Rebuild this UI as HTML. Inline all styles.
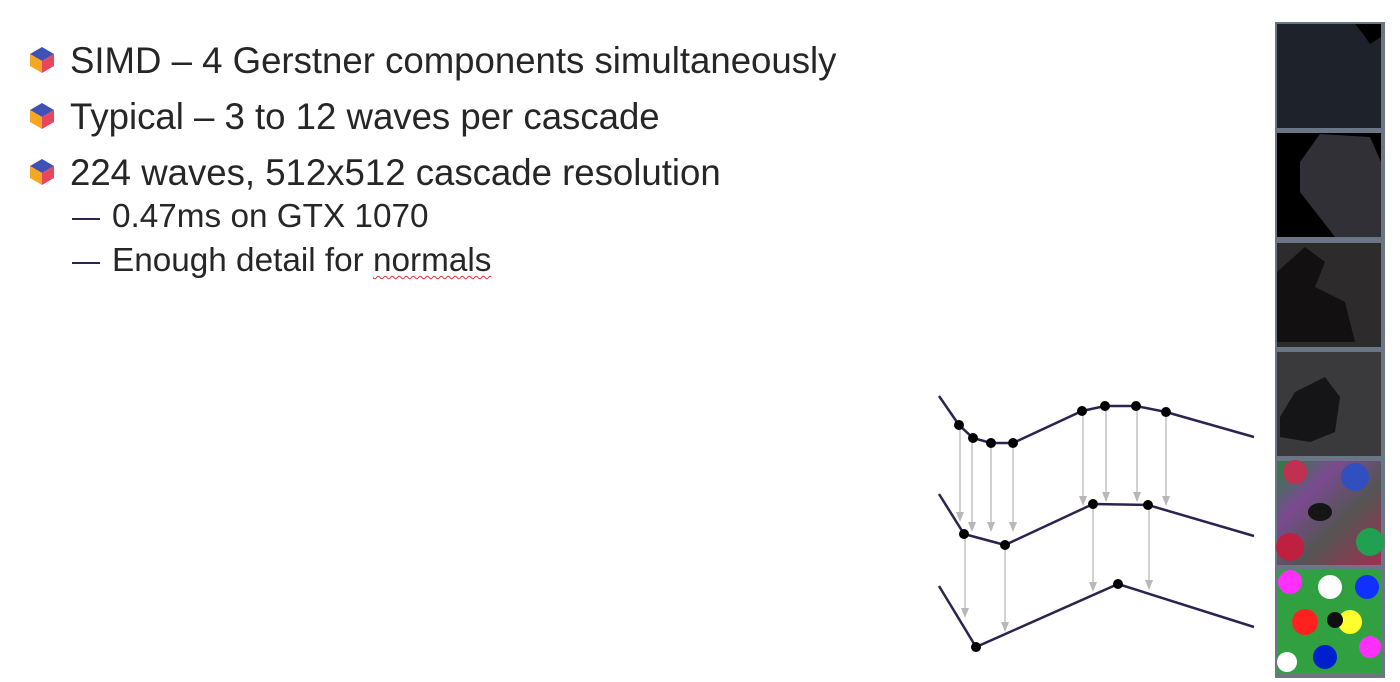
<!DOCTYPE html>
<html><head><meta charset="utf-8"><style>
body{margin:0;width:1400px;height:682px;background:#fff;overflow:hidden;position:relative;font-family:"Liberation Sans",Arial,sans-serif;color:#262626}
.b{position:absolute;left:70px;font-size:36.6px;line-height:40px;white-space:nowrap}
.s{position:absolute;left:112px;font-size:33.3px;line-height:36px;white-space:nowrap}
.d{position:absolute;left:72px;width:28px;height:2px;background:#2e2350}
.ic{position:absolute;left:28px;width:28px;height:28px}
</style></head><body>
<svg class="ic" style="top:46px" viewBox="0 0 28 28"><polygon points="14,1 26,8 14,15 2,8" fill="#3f51b5"/><polygon points="2,8 14,15 14,27 2,20" fill="#f5a623"/><polygon points="26,8 14,15 14,27 26,20" fill="#e8455e"/></svg>
<div class="b" style="top:41px">SIMD – 4 Gerstner components simultaneously</div>
<svg class="ic" style="top:102px" viewBox="0 0 28 28"><polygon points="14,1 26,8 14,15 2,8" fill="#3f51b5"/><polygon points="2,8 14,15 14,27 2,20" fill="#f5a623"/><polygon points="26,8 14,15 14,27 26,20" fill="#e8455e"/></svg>
<div class="b" style="top:97px">Typical – 3 to 12 waves per cascade</div>
<svg class="ic" style="top:158px" viewBox="0 0 28 28"><polygon points="14,1 26,8 14,15 2,8" fill="#3f51b5"/><polygon points="2,8 14,15 14,27 2,20" fill="#f5a623"/><polygon points="26,8 14,15 14,27 26,20" fill="#e8455e"/></svg>
<div class="b" style="top:153px">224 waves, 512x512 cascade resolution</div>
<div class="d" style="top:218px"></div>
<div class="s" style="top:199px">0.47ms on GTX 1070</div>
<div class="d" style="top:262px"></div>
<div class="s" style="top:243px">Enough detail for <span style="text-decoration:underline wavy #e03030;text-decoration-thickness:1px;text-underline-offset:4px">normals</span></div>

<svg style="position:absolute;left:0;top:0" width="1400" height="682">
<g stroke="#b8b8b8" stroke-width="1.3" fill="none">
<line x1="960" y1="425" x2="960" y2="520"/><line x1="972" y1="438" x2="972" y2="530"/><line x1="991" y1="443" x2="991" y2="530"/><line x1="1013" y1="443" x2="1013" y2="530"/>
<line x1="1083" y1="411" x2="1083" y2="504"/><line x1="1106" y1="406" x2="1106" y2="501"/><line x1="1137" y1="406" x2="1137" y2="501"/><line x1="1166" y1="412" x2="1166" y2="505"/>
<line x1="965" y1="534" x2="965" y2="615"/><line x1="1005" y1="545" x2="1005" y2="630"/><line x1="1093" y1="504" x2="1093" y2="590"/><line x1="1149" y1="505" x2="1149" y2="588"/>
</g>
<g fill="#b8b8b8">
<polygon points="956,512 964,512 960,522"/><polygon points="968,522 976,522 972,532"/><polygon points="987,522 995,522 991,532"/><polygon points="1009,522 1017,522 1013,532"/>
<polygon points="1079,496 1087,496 1083,506"/><polygon points="1102,492 1110,492 1106,502"/><polygon points="1133,492 1141,492 1137,502"/><polygon points="1162,496 1170,496 1166,506"/>
<polygon points="961,608 969,608 965,618"/><polygon points="1001,622 1009,622 1005,632"/><polygon points="1089,582 1097,582 1093,592"/><polygon points="1145,580 1153,580 1149,590"/>
</g>
<g stroke="#2e2350" stroke-width="2.5" fill="none">
<polyline points="939,396 959,425 973,438 991,443 1013,443 1082,411 1105,406 1136,406 1166,412 1254,437"/>
<polyline points="939,494 964,534 1005,545 1093,504 1148,505 1254,536"/>
<polyline points="939,586 976,647 1118,584 1254,627"/>
</g>
<g fill="#000">
<circle cx="959" cy="425" r="5"/><circle cx="973" cy="438" r="5"/><circle cx="991" cy="443" r="5"/><circle cx="1013" cy="443" r="5"/><circle cx="1082" cy="411" r="5"/><circle cx="1105" cy="406" r="5"/><circle cx="1136" cy="406" r="5"/><circle cx="1166" cy="412" r="5"/>
<circle cx="964" cy="534" r="5"/><circle cx="1005" cy="545" r="5"/><circle cx="1093" cy="504" r="5"/><circle cx="1148" cy="505" r="5"/>
<circle cx="976" cy="647" r="5"/><circle cx="1118" cy="584" r="5"/>
</g>
</svg>

<svg style="position:absolute;left:1275px;top:22px" width="110" height="656">
<defs>
<linearGradient id="g5" x1="0" y1="0" x2="1" y2="1"><stop offset="0" stop-color="#2a8040"/><stop offset=".3" stop-color="#7a4a90"/><stop offset=".6" stop-color="#555"/><stop offset="1" stop-color="#a03050"/></linearGradient>
</defs>
<rect width="110" height="656" fill="#6a7585"/>
<rect x="2" y="2" width="104" height="104" fill="#1e232b"/>
<path d="M80,2 L106,2 L106,15 L95,22 L88,12 Z" fill="#000"/>
<rect x="2" y="111" width="104" height="104" fill="#000"/>
<path d="M25,140 L45,112 L95,115 L106,140 L106,215 L60,215 L25,170 Z" fill="#303036"/>
<rect x="2" y="221" width="104" height="104" fill="#2d2b2b"/>
<path d="M2,250 L30,225 L50,240 L40,265 L70,280 L80,320 L2,320 Z" fill="#121010"/>
<rect x="2" y="330" width="104" height="104" fill="#3a3a3c"/>
<path d="M5,395 L20,370 L50,355 L65,375 L60,410 L35,420 L5,415 Z" fill="#151517"/>
<rect x="2" y="439" width="104" height="104" fill="url(#g5)"/>
<circle cx="20" cy="450" r="12" fill="#c03050"/><circle cx="80" cy="455" r="14" fill="#3050c0"/><circle cx="95" cy="520" r="14" fill="#20a050"/><circle cx="15" cy="525" r="14" fill="#c02040"/>
<ellipse cx="45" cy="490" rx="12" ry="9" fill="#151515"/>
<rect x="2" y="548" width="104" height="104" fill="#30a040"/>
<circle cx="15" cy="560" r="12" fill="#ff30ff"/><circle cx="55" cy="565" r="12" fill="#ffffff"/><circle cx="92" cy="565" r="12" fill="#1030ff"/>
<circle cx="30" cy="600" r="13" fill="#ff2020"/><circle cx="75" cy="600" r="12" fill="#ffff30"/><circle cx="95" cy="625" r="11" fill="#ff30ff"/>
<circle cx="50" cy="635" r="12" fill="#0020d0"/><circle cx="12" cy="640" r="10" fill="#ffffff"/><circle cx="60" cy="598" r="8" fill="#101010"/>
</svg>
</body></html>
